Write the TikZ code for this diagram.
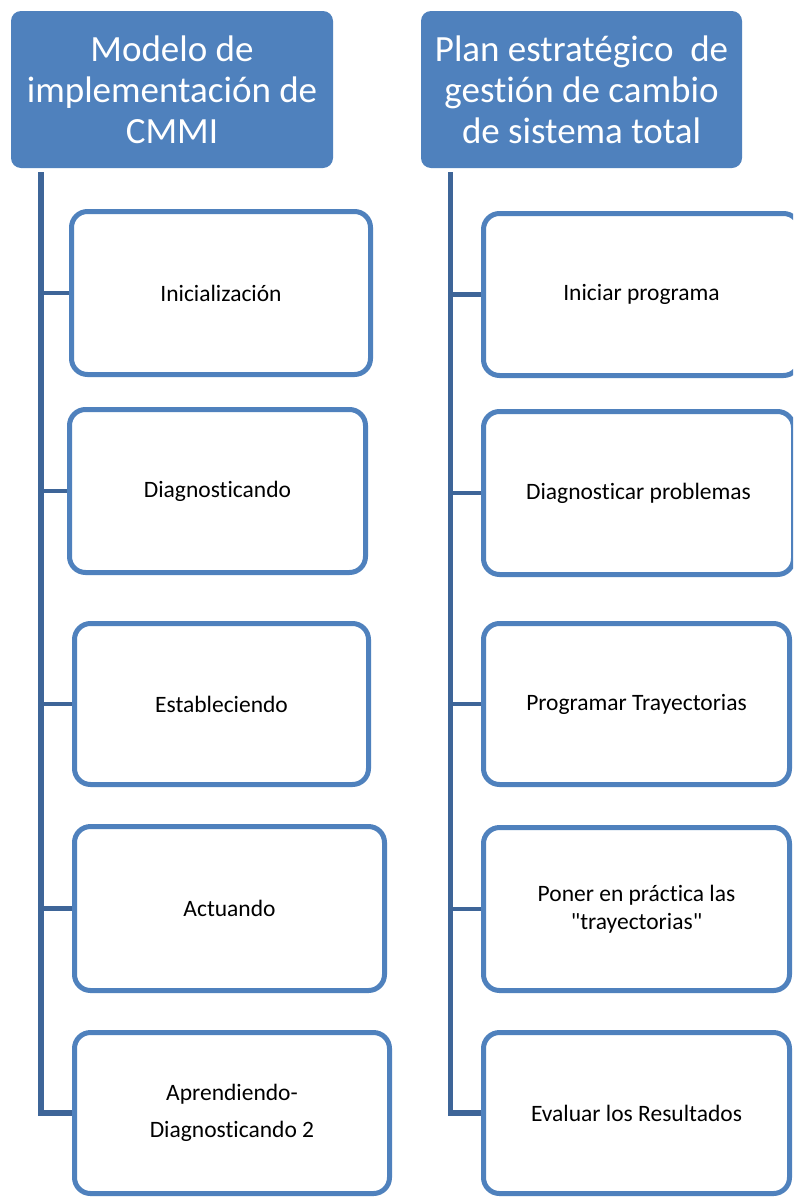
\documentclass[tikz,border=0pt]{standalone}
\usepackage{fontspec}
\setmainfont{Carlito}[Ligatures={NoCommon}]
\definecolor{accent}{RGB}{79,129,189}
\definecolor{trunkblue}{RGB}{62,101,152}
\tikzset{
  header/.style={rectangle, rounded corners=10pt, fill=accent, text=white,
    align=center, inner sep=0pt, font=\fontsize{37}{41}\selectfont},
  stepbox/.style={rectangle, rounded corners=16pt, draw=accent, line width=5pt,
    fill=white, align=center, inner sep=0pt, font=\fontsize{23.5}{28.5}\selectfont},
  trunk/.style={draw=trunkblue, line width=5.5pt, line join=miter},
  branch/.style={draw=trunkblue, line width=4.5pt},
}
% box helper: name, centre x, centre y, outer width, outer height, text
\newcommand{\stepnode}[6]{%
  \node[stepbox, minimum width=#4pt-5pt, minimum height=#5pt-5pt] (#1) at (#2,#3) {#6};}
\begin{document}
\begin{tikzpicture}[x=1pt,y=-1pt]
\useasboundingbox (0,0) rectangle (793,1197);
\clip (0,0) rectangle (793,1197);
\fill[white] (0,0) rectangle (793,1197);

% column headers
\node[header, minimum width=322pt, minimum height=157pt] (hL) at (172,89.5)
  {Modelo de\\implementación de\\CMMI};
\node[header, minimum width=321pt, minimum height=157pt] (hR) at (581.5,89.5)
  {Plan estratégico\ \ de\\gestión de cambio\\de sistema total};

% left column
\stepnode{L1}{221}{293}{304}{168}{Inicialización}
\stepnode{L2}{217.5}{491}{301}{168}{Diagnosticando}
\stepnode{L3}{221.5}{704}{299}{166}{Estableciendo}
\stepnode{L4}{229.5}{908.5}{315}{169}{Actuando}
\stepnode{L5}{232}{1113}{320}{166}{Aprendiendo-\\[8pt]Diagnosticando 2}

% right column
\stepnode{R1}{641.5}{294.5}{321}{167}{Iniciar programa}
\stepnode{R2}{638.5}{493}{315}{168}{Diagnosticar problemas}
\stepnode{R3}{636.5}{704}{311}{166}{Programar Trayectorias}
\stepnode{R4}{636.5}{909}{311}{168}{Poner en práctica las\\\textquotedbl trayectorias\textquotedbl}
\stepnode{R5}{636.5}{1113}{311}{166}{Evaluar los Resultados}

% trunk lines below each header
\coordinate (tL) at (41,172);
\coordinate (tR) at (450.5,172);

\path[trunk] (tL) |- (L5.west);
\foreach \n in {L1,L2,L3,L4} \path[branch] (tL |- \n.west) -- (\n.west);
\path[trunk] (tR) |- (R5.west);
\foreach \n in {R1,R2,R3,R4} \path[branch] (tR |- \n.west) -- (\n.west);
\end{tikzpicture}
\end{document}
